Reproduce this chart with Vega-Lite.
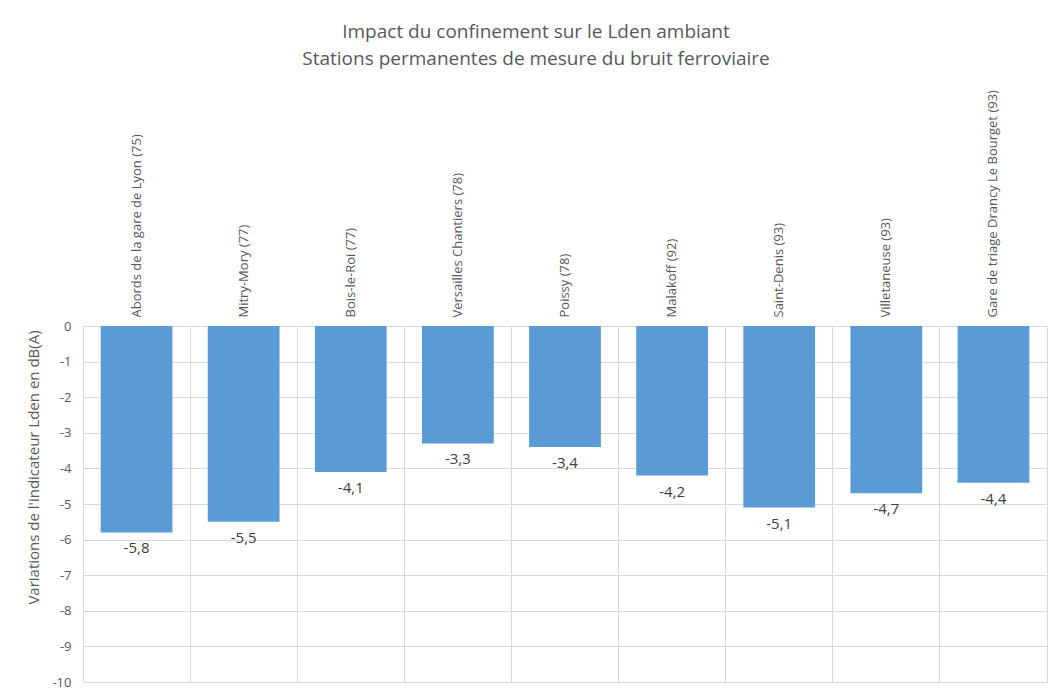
{
  "$schema": "https://vega.github.io/schema/vega-lite/v6.json",
  "autosize": {"type": "none"},
  "width": 964,
  "height": 356,
  "padding": {"left": 83, "top": 326, "right": 12, "bottom": 9},
  "background": "white",
  "config": {
    "locale": {"number": {"decimal": ",", "thousands": " ", "grouping": [3], "currency": ["", " €"], "minus": "-"}},
    "view": {"stroke": "#d9d9d9", "strokeWidth": 1},
    "font": "Open Sans"
  },
  "title": {
    "text": ["Impact du confinement sur le Lden ambiant", "Stations permanentes de mesure du bruit ferroviaire"],
    "font": "Open Sans",
    "fontSize": 19,
    "fontWeight": "normal",
    "color": "#595959",
    "lineHeight": 27,
    "anchor": "middle",
    "dx": -29,
    "offset": 21
  },
  "data": {
    "values": [
      {"station": "Abords de la gare de Lyon (75)", "variation": -5.8},
      {"station": "Mitry-Mory (77)", "variation": -5.5},
      {"station": "Bois-le-Roi (77)", "variation": -4.1},
      {"station": "Versailles Chantiers (78)", "variation": -3.3},
      {"station": "Poissy (78)", "variation": -3.4},
      {"station": "Malakoff (92)", "variation": -4.2},
      {"station": "Saint-Denis (93)", "variation": -5.1},
      {"station": "Villetaneuse (93)", "variation": -4.7},
      {"station": "Gare de triage Drancy Le Bourget (93)", "variation": -4.4}
    ]
  },
  "encoding": {
    "y": {
      "field": "variation", "type": "quantitative",
      "scale": {"domain": [-10, 0], "nice": false, "zero": true},
      "axis": {
        "values": [0, -1, -2, -3, -4, -5, -6, -7, -8, -9, -10],
        "format": "d",
        "labelOverlap": false,
        "ticks": false, "domain": false,
        "grid": true, "gridColor": "#d9d9d9",
        "labelFont": "Open Sans", "labelFontSize": 13, "labelColor": "#595959", "labelPadding": 12,
        "title": "Variations de l'indicateur Lden en dB(A)",
        "titleFont": "Open Sans", "titleFontSize": 15, "titleFontWeight": "normal", "titleColor": "#595959",
        "titlePadding": 10,
        "titleY": 141
      }
    }
  },
  "layer": [
    {
      "mark": {"type": "bar", "color": "#5b9bd5", "width": {"band": 0.67}},
      "encoding": {
        "x": {
          "field": "station", "type": "nominal", "sort": null,
          "scale": {"paddingInner": 0, "paddingOuter": 0},
          "axis": {
            "orient": "bottom", "labels": false, "ticks": false, "domain": false, "title": null,
            "grid": true, "bandPosition": 0, "gridColor": "#d9d9d9", "gridWidth": 1
          }
        }
      }
    },
    {
      "mark": {"type": "text", "baseline": "top", "dy": 9, "fontSize": 15, "color": "#404040", "font": "Open Sans"},
      "encoding": {
        "x": {
          "field": "station", "type": "nominal", "sort": null,
          "axis": {
            "orient": "top", "labelAngle": -90, "ticks": false, "domain": false, "grid": false, "title": null,
            "labelFont": "Open Sans", "labelFontSize": 13, "labelColor": "#595959", "labelPadding": 9, "labelLimit": 300
          }
        },
        "text": {"field": "variation", "type": "quantitative", "format": ".1f"}
      }
    }
  ],
  "resolve": {"axis": {"x": "independent"}}
}
